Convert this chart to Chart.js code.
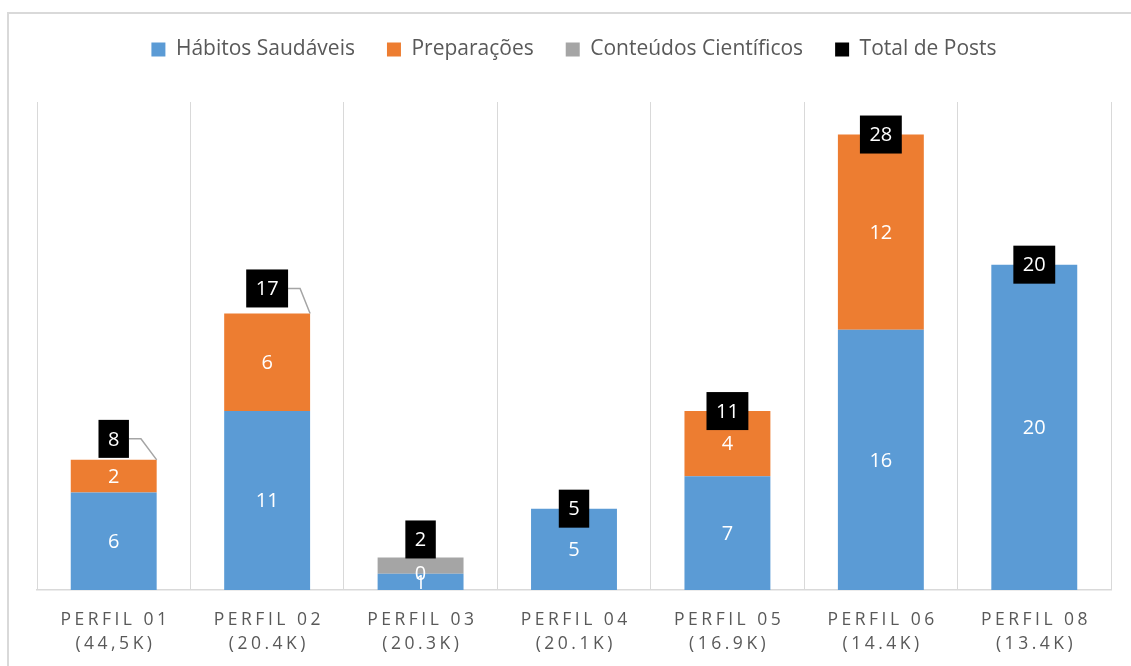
<!DOCTYPE html>
<html>
<head>
<meta charset="utf-8">
<script src="https://cdn.jsdelivr.net/npm/chart.js@4.4.1/dist/chart.umd.min.js"></script>
<style>
  html, body { margin: 0; padding: 0; background: #fff; }
  #wrap { position: relative; width: 1131px; height: 666px; overflow: hidden; }
</style>
</head>
<body>
<div id="wrap"><canvas id="chart" width="1131" height="666"></canvas></div>
<script>
// dados
const profiles = ['PERFIL 01', 'PERFIL 02', 'PERFIL 03', 'PERFIL 04', 'PERFIL 05', 'PERFIL 06', 'PERFIL 08'];
const followers = ['(44,5K)', '(20.4K)', '(20.3K)', '(20.1K)', '(16.9K)', '(14.4K)', '(13.4K)'];
const habitos = [6, 11, 1, 5, 7, 16, 20];
const preparacoes = [2, 6, 0, null, 4, 12, null];
const cientificos = [null, null, 1, null, null, null, null];
const totalPosts = [8, 17, 2, 5, 11, 28, 20];

// posição dos rótulos de total (deslocamento para cima, em px) e linhas de chamada
const totalLift = [21, 25, 18, 0, 0, 0, 0];
const leaderLine = [true, true, false, false, false, false, false];

const FONT = "'Open Sans', Carlito, Calibri, sans-serif";

const labelPlugin = {
  id: 'labelPlugin',
  beforeDraw(chart) {
    const ctx = chart.ctx;
    ctx.save();
    ctx.strokeStyle = '#D9D9D9';
    ctx.lineWidth = 2;
    ctx.strokeRect(8, 13, 1300, 800);
    ctx.restore();
  },
  afterDatasetsDraw(chart) {
    const ctx = chart.ctx;
    ctx.save();
    ctx.textAlign = 'center';
    ctx.textBaseline = 'middle';
    ctx.font = '20px ' + FONT;
    ctx.fillStyle = '#fff';
    [0, 1].forEach(di => {
      const meta = chart.getDatasetMeta(di);
      meta.data.forEach((el, i) => {
        const v = chart.data.datasets[di].data[i];
        if (v === null) return;
        ctx.fillText(String(v), el.x, (el.y + el.base) / 2 + 1);
      });
    });

    // rótulos do total
    const tMeta = chart.getDatasetMeta(3);
    ctx.font = '20px ' + FONT;
    tMeta.data.forEach((pt, i) => {
      const txt = String(totalPosts[i]);
      const w = ctx.measureText(txt).width + 19;
      const h = 38;
      const cx = pt.x;
      const cy = pt.y - totalLift[i];
      if (leaderLine[i]) {
        const bar = chart.getDatasetMeta(1).data[i];
        ctx.strokeStyle = '#A5A5A5';
        ctx.lineWidth = 1.5;
        ctx.beginPath();
        ctx.moveTo(cx + w / 2, cy);
        ctx.lineTo(cx + w / 2 + 12, cy);
        ctx.lineTo(bar.x + bar.width / 2, pt.y);
        ctx.stroke();
      }
      ctx.fillStyle = '#000';
      ctx.fillRect(cx - w / 2, cy - h / 2, w, h);
      ctx.fillStyle = '#fff';
      ctx.fillText(txt, cx, cy + 1);
    });
    ctx.restore();
  },
  afterDraw(chart) {
    const ctx = chart.ctx;
    const xs = chart.scales.x;
    const bottom = chart.chartArea.bottom;
    ctx.save();
    ctx.font = '17.5px ' + FONT;
    ctx.fillStyle = '#595959';
    ctx.textAlign = 'center';
    ctx.textBaseline = 'middle';
    ctx.letterSpacing = '3.5px';
    profiles.forEach((p, i) => {
      const x = xs.getPixelForValue(i) + 1.75;
      ctx.fillText(p, x, bottom + 30);
      ctx.fillText(followers[i], x, bottom + 54);
    });
    ctx.restore();
  }
};

new Chart(document.getElementById('chart'), {
  type: 'bar',
  data: {
    labels: profiles,
    datasets: [
      { label: 'Hábitos Saudáveis', data: habitos, backgroundColor: '#5B9BD5', borderWidth: 0 },
      { label: 'Preparações', data: preparacoes, backgroundColor: '#ED7D31', borderWidth: 0 },
      { label: 'Conteúdos Científicos', data: cientificos, backgroundColor: '#A5A5A5', borderWidth: 0 },
      {
        label: 'Total de Posts', type: 'line', data: totalPosts, stack: 'total',
        showLine: false, pointRadius: 0, pointHoverRadius: 0,
        backgroundColor: '#000', borderColor: '#000', borderWidth: 0
      }
    ]
  },
  options: {
    responsive: false,
    animation: false,
    events: [],
    layout: { padding: { left: 37, right: 20, top: 7, bottom: 76 } },
    datasets: { bar: { categoryPercentage: 1, barPercentage: 0.56 } },
    plugins: {
      legend: {
        position: 'top',
        labels: {
          font: { family: FONT, size: 21 },
          color: '#595959',
          boxWidth: 14,
          boxHeight: 14,
          padding: 32
        }
      },
      tooltip: { enabled: false }
    },
    scales: {
      x: {
        stacked: true,
        grid: { offset: true, color: '#D9D9D9', lineWidth: 1, drawTicks: false },
        border: { color: '#D9D9D9', width: 1.5 },
        ticks: { display: false }
      },
      xTop: {
        type: 'category',
        position: 'top',
        grid: { display: false },
        border: { display: false },
        ticks: { display: false },
        afterFit: s => { s.height = 32; }
      },
      y: { stacked: true, display: false, min: 0, max: 30 }
    }
  },
  plugins: [labelPlugin]
});
</script>
</body>
</html>
